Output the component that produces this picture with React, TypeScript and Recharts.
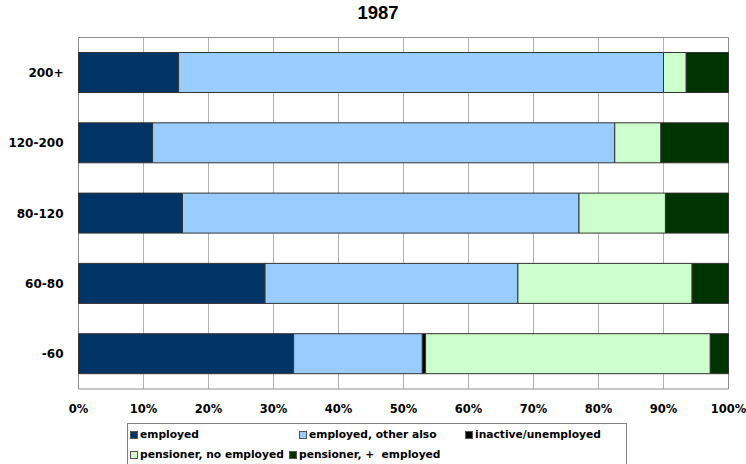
import React from "react";
import {
  BarChart,
  Bar,
  XAxis,
  YAxis,
  CartesianGrid,
  ReferenceArea,
} from "recharts";

// Income groups, top to bottom
const groups = ["200+", "120-200", "80-120", "60-80", "-60"];

// Shares of each household type (%)
const employed = [15.4, 11.4, 16.0, 28.7, 33.1];
const employedOtherAlso = [74.6, 71.1, 61.0, 38.9, 19.8];
const inactiveUnemployed = [0, 0, 0, 0, 0.5];
const pensionerNoEmployed = [3.5, 7.1, 13.3, 26.8, 43.8];
const pensionerPlusEmployed = [6.5, 10.4, 9.7, 5.6, 2.8];

const xTicks = [0, 10, 20, 30, 40, 50, 60, 70, 80, 90, 100];

const series = [
  { key: "employed", name: "employed", color: "#003366", values: employed },
  { key: "other", name: "employed, other also", color: "#99CCFF", values: employedOtherAlso },
  { key: "inactive", name: "inactive/unemployed", color: "#000000", values: inactiveUnemployed },
  { key: "pensNo", name: "pensioner, no employed", color: "#CCFFCC", values: pensionerNoEmployed },
  { key: "pensPlus", name: "pensioner, +  employed", color: "#003300", values: pensionerPlusEmployed },
];

const data = groups.map((g, i) => {
  const row: Record<string, string | number> = { group: g };
  series.forEach((s) => {
    row[s.key] = s.values[i];
  });
  return row;
});

const FONT = "'DejaVu Sans', Verdana, sans-serif";

// legend rows: which series sit on each line, and where each entry starts
const legendRows = [
  { top: 428, items: [{ s: 0, left: 130 }, { s: 1, left: 299 }, { s: 2, left: 465 }] },
  { top: 448, items: [{ s: 3, left: 130 }, { s: 4, left: 289 }] },
];

export default function App() {
  return (
    <div
      style={{
        position: "absolute",
        left: 0,
        top: 0,
        width: 746,
        height: 464,
        background: "#fff",
        overflow: "hidden",
      }}
    >
      <div
        style={{
          position: "absolute",
          left: 0,
          width: 746,
          top: 2,
          textAlign: "center",
          paddingLeft: 10,
          boxSizing: "border-box",
          fontFamily: "'Liberation Sans', Arial, sans-serif",
          fontWeight: "bold",
          fontSize: 18.5,
          color: "#000",
        }}
      >
        1987
      </div>

      <BarChart
        width={746}
        height={464}
        data={data}
        layout="vertical"
        margin={{ top: 37.5, right: 17.5, left: 0, bottom: 45 }}
      >
        <CartesianGrid horizontal={false} stroke="#b3b3b3" strokeWidth={1} />
        <XAxis
          type="number"
          domain={[0, 100]}
          ticks={xTicks}
          tickFormatter={(v: number) => `${v}%`}
          axisLine={false}
          tickLine={false}
          tickSize={0}
          tickMargin={16}
          height={30}
          interval={0}
          tick={{ fill: "#000", fontSize: 11.5, fontWeight: "bold", fontFamily: FONT }}
        />
        <YAxis
          type="category"
          dataKey="group"
          width={78.5}
          axisLine={false}
          tickLine={false}
          tickSize={0}
          tickMargin={15}
          tick={{ fill: "#000", fontSize: 12, fontWeight: "bold", fontFamily: FONT }}
        />
        {series.map((s) => (
          <Bar
            key={s.key}
            dataKey={s.key}
            name={s.name}
            stackId="a"
            fill={s.color}
            stroke="#333333"
            strokeWidth={1}
            barSize={40}
            isAnimationActive={false}
          />
        ))}
        <ReferenceArea x1={0} x2={100} fill="none" stroke="#8c8c8c" strokeWidth={1} />
      </BarChart>

      <div
        style={{
          position: "absolute",
          left: 127,
          top: 423,
          width: 500,
          height: 60,
          border: "1px solid #808080",
          boxSizing: "border-box",
        }}
      />
      {legendRows.map((row, ri) =>
        row.items.map((it) => {
          const s = series[it.s];
          return (
            <div
              key={`${ri}-${it.s}`}
              style={{
                position: "absolute",
                left: it.left,
                top: row.top,
                display: "flex",
                alignItems: "center",
                fontFamily: FONT,
                fontWeight: "bold",
                fontSize: 10.7,
                lineHeight: "14px",
                color: "#000",
                whiteSpace: "pre",
              }}
            >
              <span
                style={{
                  display: "inline-block",
                  width: 6,
                  height: 6,
                  background: s.color,
                  border: "1px solid #555",
                  marginRight: 2,
                }}
              />
              {s.name}
            </div>
          );
        })
      )}
    </div>
  );
}
